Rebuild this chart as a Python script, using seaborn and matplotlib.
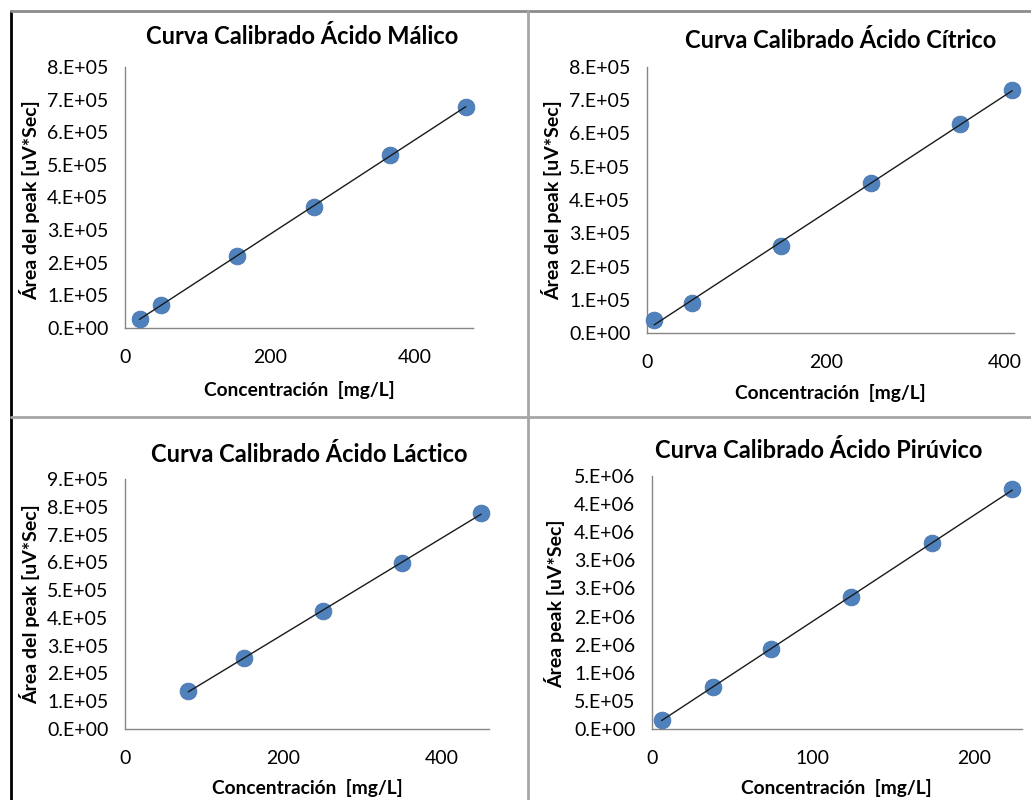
import math
import matplotlib
matplotlib.use("Agg")
import matplotlib.pyplot as plt
from matplotlib.lines import Line2D
from matplotlib.ticker import FuncFormatter, MultipleLocator
import seaborn as sns

# Calibration data: concentration [mg/L] vs. peak area [uV*Sec]
malico_conc = [20, 50, 155, 260, 365, 470]
malico_area = [2.75e4, 7.1e4, 2.21e5, 3.70e5, 5.30e5, 6.78e5]

citrico_conc = [8, 50, 150, 250, 350, 408]
citrico_area = [3.8e4, 9.1e4, 2.62e5, 4.52e5, 6.30e5, 7.30e5]

lactico_conc = [80, 150, 250, 350, 450]
lactico_area = [1.37e5, 2.54e5, 4.25e5, 5.96e5, 7.78e5]

piruvico_conc = [6, 38, 74, 124, 174, 224]
piruvico_area = [1.6e5, 7.5e5, 1.43e6, 2.35e6, 3.31e6, 4.26e6]

titles = ["Curva Calibrado Ácido Málico", "Curva Calibrado Ácido Cítrico",
          "Curva Calibrado Ácido Láctico", "Curva Calibrado Ácido Pirúvico"]
ylabels = ["Área del peak [uV*Sec]", "Área del peak [uV*Sec]",
           "Área del peak [uV*Sec]", "Área peak [uV*Sec]"]
xlabel = "Concentración  [mg/L]"

sns.set_theme(style="white")
plt.rcParams["font.family"] = ["Lato", "DejaVu Sans"]

W, H = 1031, 800
fig = plt.figure(figsize=(W / 100, H / 100), dpi=100)
fig.patch.set_facecolor("white")


def fx(px):
    return px / W


def fy(py):
    return 1 - py / H


def sci_label(v, pos=None):
    # Excel style "0.E+00" with round-half-up mantissa
    if v == 0:
        return "0.E+00"
    e = int(math.floor(math.log10(abs(v)) + 1e-9))
    m = v / 10 ** e
    mi = int(math.floor(m + 0.5 + 1e-9))
    if mi >= 10:
        mi = 1
        e += 1
    return f"{mi}.E{e:+03d}"


panels = [
    dict(x=malico_conc, y=malico_area, box=(125, 67, 473, 328), xmax=480, xstep=200,
         ymax=8e5, ystep=1e5, title=(302, 37), xl=(299, 390), yl=(30, 200)),
    dict(x=citrico_conc, y=citrico_area, box=(647, 67, 1014, 333), xmax=410, xstep=200,
         ymax=8e5, ystep=1e5, title=(841, 40), xl=(830, 393), yl=(552, 200)),
    dict(x=lactico_conc, y=lactico_area, box=(125, 479, 489, 729), xmax=460, xstep=200,
         ymax=9e5, ystep=1e5, title=(309, 455), xl=(307, 788), yl=(30, 604)),
    dict(x=piruvico_conc, y=piruvico_area, box=(652, 476, 1022, 729), xmax=230, xstep=100,
         ymax=4.5e6, ystep=5e5, title=(819, 450), xl=(836, 788), yl=(555, 604)),
]

spine_col = "#868686"
marker_col = "#4F81BD"

for i, p in enumerate(panels):
    l, t, r, b = p["box"]
    ax = fig.add_axes([fx(l), fy(b), (r - l) / W, (b - t) / H])
    sns.regplot(x=p["x"], y=p["y"], ax=ax, ci=None, truncate=True,
                scatter_kws=dict(s=145, color=marker_col, edgecolor="#4675AE",
                                 linewidths=0.6, alpha=1, zorder=3, clip_on=False),
                line_kws=dict(color="#1a1a1a", lw=1.0, zorder=4, clip_on=False))
    ax.set_xlim(0, p["xmax"])
    ax.set_ylim(0, p["ymax"])
    ax.xaxis.set_major_locator(MultipleLocator(p["xstep"]))
    ax.yaxis.set_major_locator(MultipleLocator(p["ystep"]))
    ax.yaxis.set_major_formatter(FuncFormatter(sci_label))
    ax.set_xlabel("")
    ax.set_ylabel("")
    for s in ["top", "right"]:
        ax.spines[s].set_visible(False)
    for s in ["left", "bottom"]:
        ax.spines[s].set_color(spine_col)
        ax.spines[s].set_linewidth(1.0)
    ax.tick_params(axis="both", direction="out", length=5, width=1.0,
                   color=spine_col, labelsize=14, labelcolor="black")
    ax.tick_params(axis="y", pad=7)
    ax.tick_params(axis="x", pad=10)
    ax.set_facecolor("white")

    fig.text(fx(p["title"][0]), fy(p["title"][1]), titles[i], ha="center", va="center",
             fontsize=17, fontweight="bold", color="black")
    fig.text(fx(p["xl"][0]), fy(p["xl"][1]), xlabel, ha="center", va="center",
             fontsize=13.8, fontweight="bold", color="black")
    fig.text(fx(p["yl"][0]), fy(p["yl"][1]), ylabels[i], ha="center", va="center",
             rotation=90, fontsize=14, fontweight="bold", color="black")

# Panel frame lines
frame = [
    ((10.5, 10.5), (10.5, 800), "black", 2.0),
    ((10.5, 1031), (10.5, 10.5), "#8c8c8c", 2.0),
    ((528, 528), (10.5, 800), "#a6a6a6", 2.0),
    ((10.5, 1031), (416.5, 416.5), "#a6a6a6", 2.0),
]
for xs, ys, c, lw in frame:
    fig.add_artist(Line2D([fx(v) for v in xs], [fy(v) for v in ys],
                          transform=fig.transFigure, color=c, lw=lw))

fig.savefig("out.png", dpi=100, facecolor="white")
